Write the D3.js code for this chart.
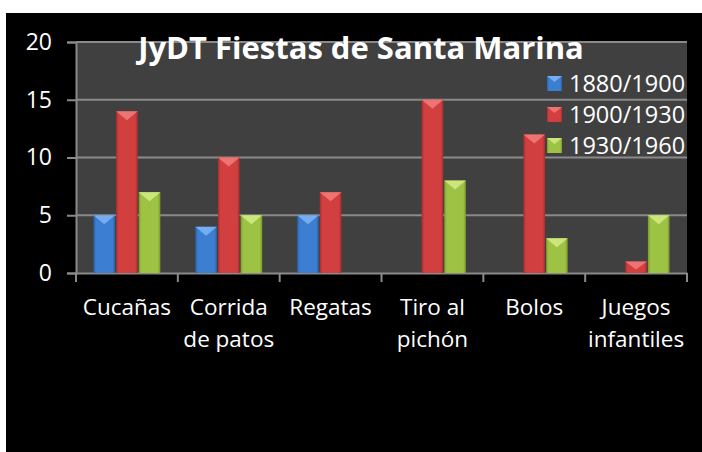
<!DOCTYPE html>
<html>
<head>
<meta charset="utf-8">
<script src="https://cdn.jsdelivr.net/npm/d3@7"></script>
<style>
  body { margin: 0; background: #fff; }
  svg text { font-family: "Open Sans", sans-serif; fill: #fff; }
</style>
</head>
<body>
<div class="container"></div>
<script>
// chart data
const categories = [["Cucañas"], ["Corrida", "de patos"], ["Regatas"], ["Tiro al", "pichón"], ["Bolos"], ["Juegos", "infantiles"]];
const seriesNames = ["1880/1900", "1900/1930", "1930/1960"];
const values1880 = [5, 4, 5, 0, 0, 0];
const values1900 = [14, 10, 7, 15, 12, 1];
const values1930 = [7, 5, 0, 8, 3, 5];
const yTicks = [0, 5, 10, 15, 20];

const colors = [
  {base: "#3b7ed2", dark: "#2a5fa6", light: "#74aef0"},
  {base: "#d23f3f", dark: "#a82d2d", light: "#ee7474"},
  {base: "#9dc244", dark: "#779a2c", light: "#cde67c"}
];

const W = 702, H = 452;
const margin = {top: 42, right: 15, bottom: 179, left: 76};
const width = 687 - margin.left;
const height = 273 - margin.top;

const svg = d3.select(".container")
  .append("svg")
    .attr("width", W)
    .attr("height", H);

// background: white strips at top and left, black chart area
svg.append("rect").attr("x", 0).attr("y", 0).attr("width", W).attr("height", H).attr("fill", "#fff");
svg.append("rect").attr("x", 6).attr("y", 13).attr("width", W - 6).attr("height", H - 13).attr("fill", "#000");

const defs = svg.append("defs");
colors.forEach((c, i) => {
  const g = defs.append("linearGradient").attr("id", "grad" + i)
    .attr("x1", "0%").attr("x2", "100%").attr("y1", "0%").attr("y2", "0%");
  g.append("stop").attr("offset", "0%").attr("stop-color", c.dark);
  g.append("stop").attr("offset", "12%").attr("stop-color", c.base);
  g.append("stop").attr("offset", "88%").attr("stop-color", c.base);
  g.append("stop").attr("offset", "100%").attr("stop-color", c.dark);
});

const chart = svg.append("g")
  .attr("transform", "translate(" + margin.left + "," + margin.top + ")");

chart.append("rect")
  .attr("width", width)
  .attr("height", height)
  .attr("fill", "#404040");

const x = d3.scaleBand()
  .domain(d3.range(categories.length))
  .range([0, width]);

const x1 = d3.scaleBand()
  .domain(d3.range(seriesNames.length))
  .range([0, x.bandwidth()])
  .paddingOuter(0.75)
  .paddingInner(0);

const y = d3.scaleLinear()
  .domain([0, 20])
  .range([height, 0]);

// gridlines
chart.selectAll(".grid")
  .data(yTicks.filter(d => d > 0))
  .enter()
  .append("line")
  .attr("x1", 0)
  .attr("x2", width)
  .attr("y1", d => y(d))
  .attr("y2", d => y(d))
  .attr("stroke", "#8a8a8a")
  .attr("stroke-width", 2);

// y axis
const yAxis = chart.append("g")
  .call(d3.axisLeft(y).tickValues(yTicks).tickSize(9).tickPadding(15));
yAxis.select(".domain").attr("stroke", "#8a8a8a").attr("stroke-width", 2);
yAxis.selectAll(".tick line").attr("stroke", "#8a8a8a").attr("stroke-width", 2);
yAxis.selectAll(".tick text").attr("font-size", 23).attr("fill", "#fff");

// x axis
const xAxis = chart.append("g")
  .attr("transform", "translate(0," + height + ")")
  .call(d3.axisBottom(x).tickSize(0).tickFormat(""));
xAxis.select(".domain").attr("stroke", "#8a8a8a").attr("stroke-width", 2);

chart.selectAll(".xtick")
  .data(d3.range(categories.length + 1))
  .enter()
  .append("line")
  .attr("x1", d => d * x.step())
  .attr("x2", d => d * x.step())
  .attr("y1", height)
  .attr("y2", height + 9)
  .attr("stroke", "#8a8a8a")
  .attr("stroke-width", 2);

const labels = chart.selectAll(".xlabel")
  .data(categories)
  .enter()
  .append("text")
  .attr("text-anchor", "middle")
  .attr("font-size", 22.5)
  .attr("transform", (d, i) => "translate(" + (x(i) + x.bandwidth() / 2) + "," + (height + 42) + ")");
labels.selectAll("tspan")
  .data(d => d)
  .enter()
  .append("tspan")
  .attr("x", 0)
  .attr("dy", (d, i) => i === 0 ? 0 : 32)
  .text(d => d);

// bars
const series = [values1880, values1900, values1930];
const barData = [];
series.forEach((vals, s) => {
  vals.forEach((v, c) => {
    if (v > 0) barData.push({s: s, c: c, v: v});
  });
});

const bars = chart.selectAll(".bar")
  .data(barData)
  .enter()
  .append("g")
  .attr("transform", d => "translate(" + (x(d.c) + x1(d.s)) + ",0)");

bars.append("rect")
  .attr("x", 0.5)
  .attr("y", d => y(d.v))
  .attr("width", x1.bandwidth() - 1)
  .attr("height", d => y(0) - y(d.v))
  .attr("fill", d => "url(#grad" + d.s + ")");

bars.append("path")
  .attr("d", d => {
    const w = x1.bandwidth() - 1;
    const t = y(d.v);
    const h = Math.min(9, (y(0) - t) * 0.7);
    return "M0.5," + t + "L" + (w + 0.5) + "," + t + "L" + (w / 2 + 0.5) + "," + (t + h) + "Z";
  })
  .attr("fill", d => colors[d.s].light);

// title
svg.append("text")
  .attr("x", 361)
  .attr("y", 59)
  .attr("text-anchor", "middle")
  .attr("font-size", 31)
  .attr("font-weight", "bold")
  .text("JyDT Fiestas de Santa Marina");

// legend
const legend = svg.append("g")
  .attr("transform", "translate(547, 76)");

const items = legend.selectAll(".item")
  .data(seriesNames)
  .enter()
  .append("g")
  .attr("transform", (d, i) => "translate(0," + (i * 31) + ")");

items.append("rect")
  .attr("width", 15)
  .attr("height", 15)
  .attr("fill", (d, i) => "url(#grad" + i + ")");
items.append("path")
  .attr("d", "M0,0L15,0L7.5,6Z")
  .attr("fill", (d, i) => colors[i].light);
items.append("text")
  .attr("x", 22)
  .attr("y", 16)
  .attr("font-size", 23.5)
  .text(d => d);
</script>
</body>
</html>
